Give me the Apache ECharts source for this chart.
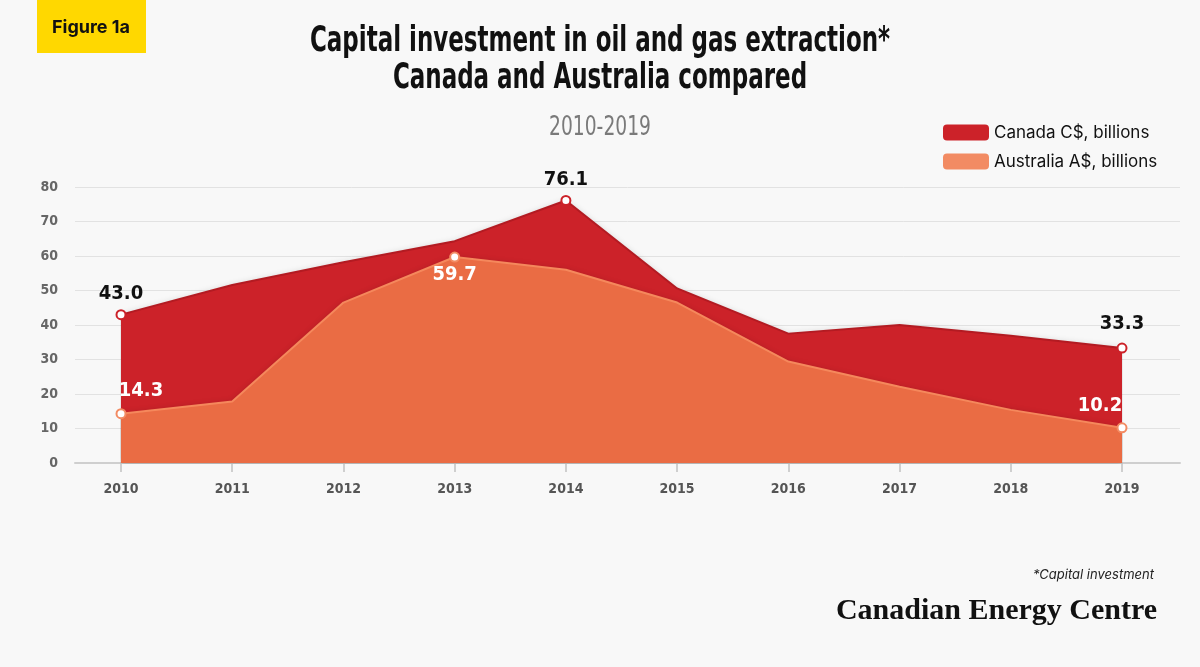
<!DOCTYPE html>
<html>
<head>
<meta charset="utf-8">
<script src="https://cdn.jsdelivr.net/npm/echarts@6/dist/echarts.min.js"></script>
<style>
  html, body { margin: 0; padding: 0; background: #f8f8f8; }
  #chart { width: 1200px; height: 667px; }
</style>
</head>
<body>
<div id="chart"></div>
<script>
const years = ['2010', '2011', '2012', '2013', '2014', '2015', '2016', '2017', '2018', '2019'];
const canada = [43.0, 51.6, 58.2, 64.3, 76.1, 50.6, 37.5, 40.0, 36.9, 33.3];
const australia = [14.3, 17.8, 46.5, 59.7, 56.0, 46.5, 29.4, 22.1, 15.4, 10.2];
const yTicks = [0, 10, 20, 30, 40, 50, 60, 70, 80];

const narrow = "'Liberation Sans Narrow', 'DejaVu Sans Condensed', sans-serif";

// only a few points get a marker and a value label
const canadaLabels = {
  0: { position: 'top' },
  4: { position: 'top' },
  9: { position: 'top', offset: [0, -4] }
};
const australiaLabels = {
  0: { position: 'top', offset: [20, -2] },
  3: { position: 'bottom', offset: [0, -3] },
  9: { position: 'top', offset: [-22, -2] }
};

function buildData(values, labels, textColor) {
  return values.map((v, i) => {
    if (!labels[i]) return v;
    return {
      value: v,
      symbol: 'emptyCircle',
      symbolSize: 9,
      label: Object.assign({
        show: true,
        color: textColor,
        fontSize: 20,
        fontFamily: narrow,
        fontWeight: 'bold',
        formatter: p => p.value.toFixed(1)
      }, labels[i])
    };
  });
}

function txt(x, y, text, family, size, weight, color, align, extra) {
  return Object.assign({
    type: 'text', x: x, y: y,
    style: {
      text: text, fontFamily: family, fontSize: size, fontWeight: weight,
      fill: color, align: align, verticalAlign: 'middle'
    }
  }, extra || {});
}

const chart = echarts.init(document.getElementById('chart'));

const option = {
  backgroundColor: '#f8f8f8',
  animation: false,
  legend: {
    orient: 'vertical',
    left: 938,
    top: 119,
    icon: 'roundRect',
    itemWidth: 46,
    itemHeight: 16,
    itemGap: 12,
    textStyle: { fontFamily: 'Inter, sans-serif', fontSize: 17, color: '#111' },
    data: ['Canada C$, billions', 'Australia A$, billions']
  },
  graphic: [
    { type: 'rect', left: 37, top: 0, shape: { width: 109, height: 53 }, style: { fill: '#FFD800' } },
    txt(91, 28, 'Figure 1a', 'Inter, sans-serif', 18, 'bold', '#111', 'center'),
    // condensed headline: squeeze the text horizontally around its centre
    txt(600, 42, 'Capital investment in oil and gas extraction*', narrow, 35, 'bold', '#111', 'center', { scaleX: 0.73 }),
    txt(600, 79, 'Canada and Australia compared', narrow, 35, 'bold', '#111', 'center', { scaleX: 0.73 }),
    txt(600, 128, '2010-2019', narrow, 26, 'normal', '#7a7a7a', 'center', { scaleX: 0.8 }),
    txt(1154, 575, '*Capital investment', 'Inter, sans-serif', 13, 'normal', '#222', 'right', { style: { text: '*Capital investment', fontFamily: 'Inter, sans-serif', fontSize: 13, fontStyle: 'italic', fill: '#222', align: 'right', verticalAlign: 'middle' } }),
    txt(1157, 611, 'Canadian Energy Centre', '"Liberation Serif", serif', 30, 'bold', '#111', 'right')
  ],
  grid: [
    { left: 75, right: 20, top: 187, bottom: 204 },
    { left: 121, right: 78, top: 187, bottom: 204 }
  ],
  xAxis: [{
    gridIndex: 0,
    type: 'value',
    min: 0,
    max: 1,
    axisLabel: { show: false },
    axisTick: { show: false },
    splitLine: { show: false },
    axisLine: { show: true, lineStyle: { color: '#cfcfcf', width: 2 } }
  }, {
    gridIndex: 1,
    type: 'category',
    data: years,
    boundaryGap: false,
    axisLine: { show: false },
    axisTick: { show: true, length: 9, lineStyle: { color: '#cfcfcf', width: 2 } },
    axisLabel: { color: '#555', fontSize: 14, fontWeight: 'bold', fontFamily: narrow, margin: 19 }
  }],
  yAxis: [{
    gridIndex: 0,
    type: 'value',
    min: yTicks[0],
    max: yTicks[yTicks.length - 1],
    interval: 10,
    axisLine: { show: false },
    axisTick: { show: false },
    axisLabel: { color: '#666', fontSize: 14, fontWeight: 'bold', fontFamily: narrow, margin: 17 },
    splitLine: { lineStyle: { color: '#e2e2e2', width: 1 } }
  }, {
    gridIndex: 1,
    type: 'value',
    min: yTicks[0],
    max: yTicks[yTicks.length - 1],
    show: false
  }],
  series: [{
    name: 'Canada C$, billions',
    type: 'line',
    xAxisIndex: 1,
    yAxisIndex: 1,
    symbol: 'none',
    data: buildData(canada, canadaLabels, '#111'),
    itemStyle: { color: '#CC2229', borderWidth: 2 },
    lineStyle: { color: '#B31B22', width: 2 },
    areaStyle: { color: '#CC2229', opacity: 1, shadowColor: 'rgba(0,0,0,0.15)', shadowBlur: 6 },
    z: 2
  }, {
    name: 'Australia A$, billions',
    type: 'line',
    xAxisIndex: 1,
    yAxisIndex: 1,
    symbol: 'none',
    data: buildData(australia, australiaLabels, '#fff'),
    itemStyle: { color: '#F28B63', borderWidth: 2 },
    lineStyle: { color: '#F5885C', width: 2 },
    areaStyle: { color: '#EA6C44', opacity: 1, shadowColor: 'rgba(0,0,0,0.15)', shadowBlur: 6 },
    z: 3
  }]
};

chart.setOption(option);
</script>
</body>
</html>
